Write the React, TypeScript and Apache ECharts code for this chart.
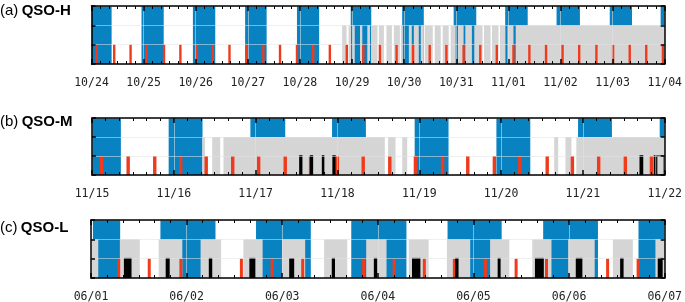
import React, { useEffect, useRef } from "react";
import * as echarts from "echarts";

// ---------- tick labels (one per day) ----------
const DAYS_A = ["10/24", "10/25", "10/26", "10/27", "10/28", "10/29", "10/30", "10/31", "11/01", "11/02", "11/03", "11/04"];
const DAYS_B = ["11/15", "11/16", "11/17", "11/18", "11/19", "11/20", "11/21", "11/22"];
const DAYS_C = ["06/01", "06/02", "06/03", "06/04", "06/05", "06/06", "06/07"];

// ---------- intervals, in days from the first label ----------
// blue: full height blocks
const BLUE_A = [[0, 0.386], [0.96, 1.386], [1.946, 2.375], [2.948, 3.361], [3.943, 4.369], [4.975, 5.369], [5.962, 6.377], [6.95, 7.384], [7.939, 8.371], [8.925, 9.373], [9.946, 10.373], [10.922, 11]];
const BLUE_B = [[0, 0.353], [0.937, 1.351], [1.936, 2.362], [2.934, 3.348], [3.944, 4.358], [4.943, 5.357], [5.941, 6.355], [6.939, 7]];
const BLUE_C = [[0.02, 0.305], [0.726, 1.302], [1.726, 2.299], [2.722, 3.299], [3.729, 4.295], [4.729, 5.302], [5.726, 6]];

// gray: lower two rows
const GRAY_A = [[4.809, 4.895], [4.933, 4.981], [5.007, 5.052], [5.153, 5.197], [5.293, 5.344], [5.373, 5.488], [5.516, 5.612], [5.66, 5.765], [5.803, 5.918], [5.937, 5.975], [6.09, 6.147], [6.186, 6.281], [6.319, 6.377], [6.396, 6.549], [6.587, 6.702], [6.74, 6.855], [6.893, 6.989], [7.033, 7.141], [7.174, 7.3], [7.346, 7.505], [7.533, 7.658], [7.686, 7.811], [7.839, 7.939], [7.983, 8.098], [8.141, 11]];
const GRAY_B = [[1.348, 1.382], [1.469, 1.567], [1.607, 3.579], [3.619, 3.71], [3.792, 3.853], [5.649, 5.698], [5.787, 5.86], [5.92, 7]];
const GRAY_C = [[0.007, 0.076], [0.302, 0.51], [0.708, 0.955], [1.146, 1.361], [1.594, 1.795], [1.997, 2.24], [2.438, 2.68], [2.878, 3.091], [3.323, 3.531], [3.722, 3.966], [4.174, 4.375], [4.615, 4.816], [4.99, 5.268], [5.458, 5.667], [5.903, 6]];

// red: event times (centre, days) in the bottom row
const RED_A = [0.099, 0.436, 0.75, 1.055, 1.392, 1.706, 2.023, 2.329, 2.648, 2.979, 3.298, 3.618, 3.943, 4.254, 4.574, 4.899, 5.216, 5.535, 5.855, 6.172, 6.491, 6.811, 7.141, 7.461, 7.778, 8.098, 8.403, 8.723, 9.04, 9.359, 9.69, 10.01, 10.329, 10.646, 10.966];
const RED_B = [0.118, 0.442, 0.767, 1.084, 1.396, 1.72, 2.037, 2.362, 2.672, 2.999, 3.315, 3.64, 3.953, 4.285, 4.593, 4.918, 5.229, 5.564, 5.872, 6.193, 6.519, 6.838];
const RED_C = [0.29, 0.609, 0.94, 1.573, 1.894, 2.214, 2.851, 3.17, 3.486, 3.8, 4.125, 4.446, 4.764, 5.091, 5.403, 5.722];
const RED_DURATION_H = [1.1, 1.0, 0.75];

// black: intervals in the bottom row
const BLACK_A: number[][] = [];
const BLACK_B = [[2.532, 2.572], [2.663, 2.703], [2.809, 2.84], [2.938, 2.979], [6.692, 6.738], [6.866, 6.887]];
const BLACK_C = [[0.344, 0.424], [0.781, 0.823], [1.232, 1.268], [1.656, 1.719], [2.073, 2.125], [2.518, 2.552], [2.958, 2.993], [3.357, 3.445], [3.809, 3.844], [4.253, 4.284], [4.643, 4.736], [5.07, 5.139], [5.534, 5.57], [5.927, 5.979]];
const BLACK_OUTLINE_B = [[6.903, 6.994]];

const TITLES = [["(a)", "QSO-H"], ["(b)", "QSO-M"], ["(c)", "QSO-L"]];

const BLUE = "#0882c0";
const GRAY = "#d5d5d5";
const RED = "#f03a1a";
const MONO = "DejaVu Sans Mono";
const SANS = "Liberation Sans";

const GRIDS = [
  { left: 91.5, top: 6, width: 575.5, height: 58 },
  { left: 92, top: 118, width: 575, height: 57 },
  { left: 91, top: 220, width: 576, height: 58 },
];
const TITLE_TOP = [1.5, 112, 218.5];

function rectRender(y0: number, y1: number, style: any) {
  return (params: any, api: any) => {
    const s = api.value(0);
    const e = api.value(1);
    const p0 = api.coord([s, y1]);
    const p1 = api.coord([e, y0]);
    const cs = params.coordSys;
    const shape = echarts.graphic.clipRectByRect(
      { x: p0[0], y: p0[1], width: Math.max(p1[0] - p0[0], 0.8), height: p1[1] - p0[1] },
      { x: cs.x, y: cs.y, width: cs.width, height: cs.height }
    );
    if (!shape) return null;
    return { type: "rect", shape, style };
  };
}

export default function App() {
  const ref = useRef<HTMLDivElement>(null);
  useEffect(() => {
    if (!ref.current) return;
    const chart = echarts.init(ref.current, undefined, { renderer: "svg" });
    const labels = [DAYS_A, DAYS_B, DAYS_C];
    const blues = [BLUE_A, BLUE_B, BLUE_C];
    const grays = [GRAY_A, GRAY_B, GRAY_C];
    const reds = [RED_A, RED_B, RED_C];
    const blacks = [BLACK_A, BLACK_B, BLACK_C];

    const xAxis: any[] = [];
    const yAxis: any[] = [];
    const series: any[] = [];
    const gridLine = { show: true, lineStyle: { color: "rgba(225,225,225,0.55)", width: 1 } };

    labels.forEach((lab, i) => {
      const n = lab.length - 1;
      const base = {
        type: "value",
        gridIndex: i,
        min: 0,
        max: n,
        interval: 1,
        z: 5,
        axisLine: { show: true, onZero: false, lineStyle: { color: "#000", width: 1.5 } },
        axisTick: { show: true, inside: true, length: 5, lineStyle: { color: "#000", width: 1.5 } },
        minorTick: { show: true, splitNumber: 6, length: 3, lineStyle: { color: "#000", width: 1 } },
      };
      xAxis.push({
        ...base,
        position: "bottom",
        splitLine: gridLine,
        axisLabel: {
          show: true,
          margin: 12,
          fontFamily: MONO,
          fontSize: 11.5,
          color: "#222",
          formatter: (v: number) => lab[Math.round(v)] ?? "",
        },
      });
      xAxis.push({ ...base, position: "top", splitLine: { show: false }, axisLabel: { show: false } });
      const ybase = {
        type: "value",
        gridIndex: i,
        min: 0,
        max: 3,
        interval: 1,
        z: 5,
        axisLine: { show: true, onZero: false, lineStyle: { color: "#000", width: 1.5 } },
        axisTick: { show: true, inside: true, length: 4, lineStyle: { color: "#000", width: 1.5 } },
        axisLabel: { show: false },
      };
      yAxis.push({ ...ybase, position: "left", splitLine: gridLine });
      yAxis.push({ ...ybase, position: "right", splitLine: { show: false } });

      const common = { type: "custom", xAxisIndex: i * 2, yAxisIndex: i * 2, encode: { x: [0, 1] }, z: 2 };
      series.push({ ...common, name: "blue" + i, data: blues[i], renderItem: rectRender(0, 3, { fill: BLUE }) });
      series.push({ ...common, name: "gray" + i, data: grays[i], renderItem: rectRender(0, 2, { fill: GRAY }) });
      const dur = RED_DURATION_H[i] / 24;
      series.push({
        ...common,
        name: "red" + i,
        data: reds[i].map((c) => [c - dur / 2, c + dur / 2]),
        renderItem: rectRender(0, 1, { fill: RED }),
      });
      series.push({ ...common, name: "black" + i, data: blacks[i], renderItem: rectRender(0, 1.04, { fill: "#000" }) });
      if (i === 1) {
        series.push({
          ...common,
          name: "outline" + i,
          data: BLACK_OUTLINE_B,
          renderItem: rectRender(0, 1, { fill: "none", stroke: "#000", lineWidth: 1.2 }),
        });
      }
    });

    const graphic = TITLES.map((t, i) => ({
      type: "text",
      x: 0,
      y: TITLE_TOP[i],
      style: {
        text: `{r|${t[0]}} {b|${t[1]}}`,
        verticalAlign: "top",
        fill: "#000",
        rich: {
          r: { fontFamily: SANS, fontSize: 15, fontWeight: "normal", fill: "#000", lineHeight: 16 },
          b: { fontFamily: SANS, fontSize: 15, fontWeight: "bold", fill: "#000", lineHeight: 16 },
        },
      },
    }));

    chart.setOption({
      animation: false,
      grid: GRIDS.map((g) => ({ ...g, containLabel: false })),
      xAxis,
      yAxis,
      series,
      graphic,
    });
    return () => chart.dispose();
  }, []);
  return <div ref={ref} style={{ position: "fixed", left: 0, top: 0, width: 685, height: 302 }} />;
}
